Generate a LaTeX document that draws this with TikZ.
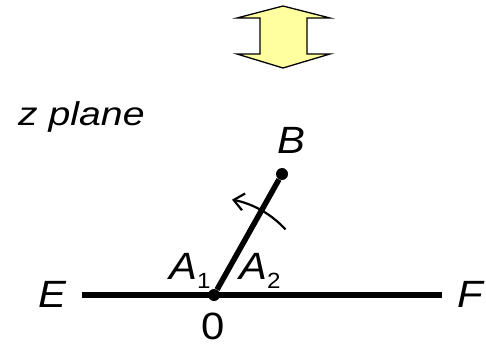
\documentclass[tikz,border=0pt]{standalone}
\usepackage{fontspec}
\setmainfont{Liberation Sans}
\usetikzlibrary{positioning, arrows.meta}
\definecolor{paleyellow}{RGB}{255,255,160}
\tikzstyle{lbl}=[font=\fontsize{38}{38}\selectfont\itshape, inner sep=0pt, transform shape, xscale=1.1]
\tikzstyle{bar}=[line width=5.5pt]
\tikzstyle{dot}=[circle, fill, inner sep=0pt, minimum size=12pt]
\tikzstyle{ar}=[-{Straight Barb[length=10pt, width=17pt]}, line width=2.2pt]
\tikzstyle{swap}=[draw, line width=1.3pt, fill=paleyellow, line join=miter]
\newcommand{\lowidx}[1]{\raisebox{-0.25em}{\upshape\fontsize{22}{22}\selectfont #1}}

\begin{document}
\begin{tikzpicture}[x=1pt, y=1pt]
    \useasboundingbox (0,0) rectangle (486,346);
    % exchange arrow
    \draw[swap] (283,340) -- (330,328) -- (307,328) -- (307,292) -- (330,292)
        -- (283,278) -- (237,292) -- (260,292) -- (260,328) -- (237,328) -- cycle;
    \node[lbl, font=\fontsize{33}{33}\selectfont\itshape, xscale=1.08, anchor=base west] (zpl) at (18,221) {z plane};
    % axis and ray
    \node[dot] (o) at (214,51) {};
    \node[dot] (b) at (282,172) {};
    \coordinate (e) at (82,51);
    \coordinate (f) at (442,51);
    \draw[bar] (e) -- (f);
    \draw[bar] (o) -- (b);
    \draw[ar] ([shift={(42.5:97)}]o.center) arc[start angle=42.5, end angle=79.3, radius=97];
    % labels
    \node[lbl, anchor=base west] (lE) at (38,39) {E};
    \node[lbl, anchor=base west] (lF) at (457,39) {F};
    \node[lbl, anchor=base] (l0) at (213,7) {\upshape 0};
    \node[lbl, anchor=base west] (lB) at (277,193) {B};
    \node[lbl, anchor=base west] (lA1) at (169,67) {A\lowidx{1}};
    \node[lbl, anchor=base west] (lA2) at (239,67) {A\lowidx{2}};
\end{tikzpicture}
\end{document}
